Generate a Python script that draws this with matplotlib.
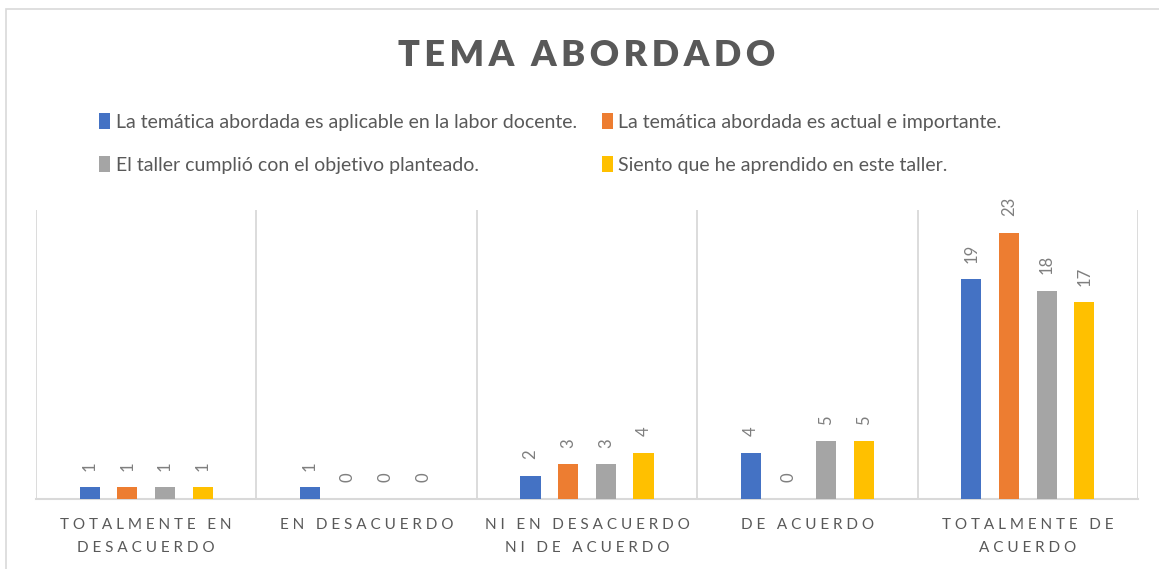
import matplotlib
matplotlib.use("Agg")
import matplotlib.pyplot as plt
import numpy as np
from matplotlib.patches import Rectangle

categories = ["TOTALMENTE EN\nDESACUERDO", "EN DESACUERDO", "NI EN DESACUERDO\nNI DE ACUERDO",
              "DE ACUERDO", "TOTALMENTE DE\nACUERDO"]
series_names = ["La temática abordada es aplicable en la labor docente.",
                "La temática abordada es actual e importante.",
                "El taller cumplió con el objetivo planteado.",
                "Siento que he aprendido en este taller."]
aplicable = [1, 1, 2, 4, 19]
actual = [1, 0, 3, 0, 23]
objetivo = [1, 0, 3, 5, 18]
aprendido = [1, 0, 4, 5, 17]
colors = ["#4472C4", "#ED7D31", "#A5A5A5", "#FFC000"]
title = "TEMA ABORDADO"

plt.rcParams['font.family'] = ['Lato', 'DejaVu Sans']

W, H = 1159, 569
fig = plt.figure(figsize=(W / 100, H / 100), dpi=100)

# outer chart border
fig.patches.append(Rectangle((6 / W, -0.05), 1.1, (H - 9) / H + 0.05, transform=fig.transFigure,
                             fill=False, edgecolor="#D9D9D9", linewidth=1.2))

ax = fig.add_axes([36 / W, (H - 499) / H, (1138 - 36) / W, (499 - 210) / H])
x = np.arange(len(categories))
step = 0.171
width = 0.092
all_series = [aplicable, actual, objetivo, aprendido]
handles = []
for i, (vals, c, name) in enumerate(zip(all_series, colors, series_names)):
    pos = x + (i - 1.5) * step
    bars = ax.bar(pos, vals, width=width, color=c, label=name, zorder=3)
    handles.append(bars)
    for p, v in zip(pos, vals):
        ax.annotate(str(v), (p, v), xytext=(0, 12), textcoords="offset points",
                    rotation=90, ha="center", va="bottom", fontsize=12, color="#7F7F7F")

ax.set_xlim(-0.5, len(categories) - 0.5)
ax.set_ylim(0, 25)
ax.set_yticks([])
ax.set_xticks([])
for s in ["top", "right", "left"]:
    ax.spines[s].set_visible(False)
ax.spines["bottom"].set_color("#D9D9D9")
ax.spines["bottom"].set_linewidth(1.5)
for b in np.arange(-0.5, len(categories), 1.0):
    ax.axvline(b, color="#D9D9D9", linewidth=1.3, zorder=1)


def spaced(s, sep=" ", wsep="   "):
    return "\n".join(wsep.join(sep.join(list(w)) for w in line.split(" ")) for line in s.split("\n"))


for xi, cat in zip(x, categories):
    ax.text(xi, -0.065, spaced(cat), transform=ax.get_xaxis_transform(), ha="center", va="top",
            fontsize=11, color="#595959", linespacing=1.8)

fig.text(587 / W, 1 - 56 / H, spaced(title, sep="\u2009", wsep="  "),
         ha="center", va="center", fontsize=26, fontweight="heavy", color="#595959")

order = [0, 2, 1, 3]
leg = fig.legend([handles[i] for i in order], [series_names[i] for i in order],
                 loc="upper left", bbox_to_anchor=(99 / W, 1 - 113 / H),
                 ncol=2, frameon=False, fontsize=14, handlelength=0.55, handleheight=0.9,
                 handletextpad=0.3, columnspacing=1.3, labelspacing=1.3, labelcolor="#595959",
                 borderaxespad=0, borderpad=0)

fig.savefig("out.png", dpi=100, facecolor="white")
